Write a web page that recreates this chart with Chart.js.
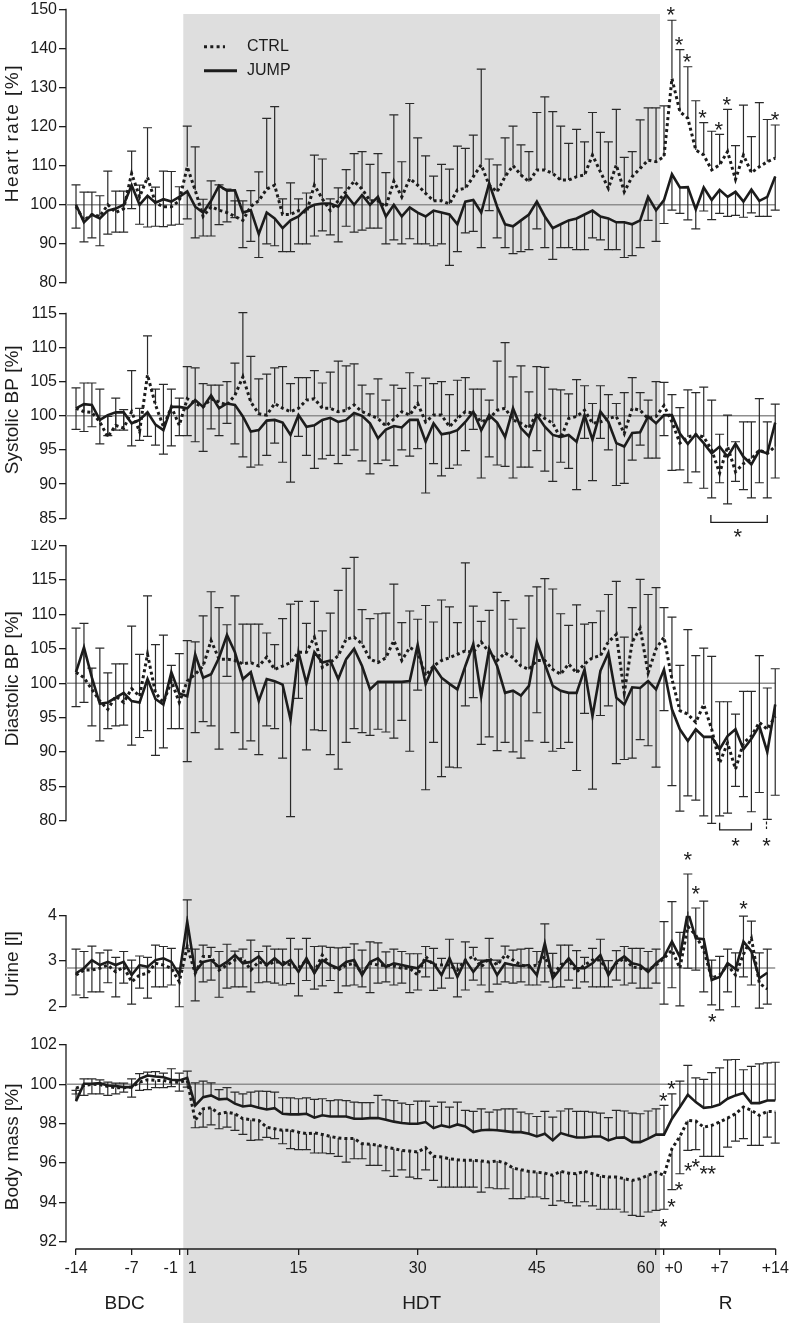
<!DOCTYPE html>
<html>
<head>
<meta charset="utf-8">
<title>Heart rate, blood pressure, urine and body mass - CTRL vs JUMP</title>
<script src="https://cdn.jsdelivr.net/npm/chart.js@4.4.1/dist/chart.umd.min.js"></script>
<style>
  html, body { margin: 0; padding: 0; background: #fff; }
  #page { position: relative; width: 791px; height: 1323px; overflow: hidden; }
  #page canvas { position: absolute; left: 0; }
</style>
</head>
<body>
<div id="page">
  <canvas id="hrChart" width="791" height="298" style="top:0px"></canvas>
  <canvas id="sysChart" width="791" height="242" style="top:298px"></canvas>
  <canvas id="diaChart" width="791" height="308" style="top:540px"></canvas>
  <canvas id="urineChart" width="791" height="187" style="top:848px"></canvas>
  <canvas id="massChart" width="791" height="288" style="top:1035px"></canvas>
</div>
<script>
// ============================================
// DATA
// ============================================

// days per phase: BDC -14..-1, HDT 1..60, R +0..+14 (one point per day)
const nBDC = 14, nHDT = 60, nR = 15;
const xTickPos  = [0, 7, 13, 14, 28, 43, 58, 73, 74, 81, 88];
const xTickText = ['-14', '-7', '-1', '1', '15', '30', '45', '60', '+0', '+7', '+14'];
const phaseNames = ['BDC', 'HDT', 'R'];
const seriesNames = ['CTRL', 'JUMP'];

// heart rate [%]
const hrCtrl = [
  99.5, 96, 97.5, 97, 100, 98, 99, 108, 102, 107, 100.5, 99.5, 99.5, 101,
  109.7, 103.7, 97, 99.5, 98.6, 98, 97, 96, 99.6, 101, 104, 105, 97.5, 97.5, 98.5, 98,
  105, 101.5, 98.5, 101, 103.4, 106, 104, 101, 101, 99.5, 106, 102, 106.7, 105, 102.9,
  101, 101, 100.2, 103.8, 104.2, 107.2, 110.2, 105, 103.3, 107.2, 110, 107.6, 105.9, 108.9, 108.9,
  108, 106.3, 106.3, 107.2, 107.6, 112.7, 108.4, 104.2, 110.2, 103.3, 107.2, 109.3, 111.4, 111,
  112.3, 132.3, 123.8, 122.1, 114, 112.7, 108.9, 110.2, 113.6, 106.5, 112.7, 108.2, 109.7, 111, 111.9
];
const hrCtrlErr = [
  5.6, 7.2, 5.7, 5.3, 8.6, 5.5, 4.5, 5.7, 3, 12.7, 4, 9.1, 9, 3.6,
  10.4, 11.1, 4.4, 6.6, 6.5, 6, 4, 5, 4, 7.4, 18.1, 20.1, 4, 8.1, 3, 5, 7.7, 10.2, 3, 3.3,
  5.6, 7.1, 9.6, 9.3, 12.1, 8.7, 17, 9, 19.2, 12.1, 9.6, 6.3, 9.3, 8.9, 11.2, 10.2, 10.6, 24.5,
  6.7, 6.9, 9.9, 10.1, 7.7, 7.7, 14.7, 18.7, 15.8, 13.8, 9.4, 12.1, 8.5, 10.9, 10.1, 11.9, 14.2,
  8.8, 6.4, 12.4, 13.4, 13.8,
  13, 14.9, 15.9, 13.2, 12.6, 8.3, 9.9, 7.8, 10.8, 8.6, 12.8, 9.2, 16.4, 10.8, 8.5
];
const hrJump = [
  100, 95.5, 97.5, 96.5, 98.5, 99, 100, 105, 100, 102.3, 100.5, 101.4, 100.8, 102,
  103.4, 99.5, 98, 101, 104.9, 103.6, 103.7, 98, 98.6, 92.5, 98, 96.5, 94, 96, 97, 99,
  100, 100.3, 100.3, 99.5, 102.5, 100, 102.5, 100, 102, 97, 100, 97, 99.3, 98, 97,
  98.5, 98, 97.5, 95, 100.8, 101.2, 98, 105.5, 99.5, 95, 94.5, 96, 97.5, 100.8, 97,
  94, 95, 96, 96.5, 97.5, 98.5, 97, 96.5, 95.5, 95.5, 95, 96, 102, 98.6,
  101.2, 107.8, 104.4, 104.5, 98.8, 104.4, 101.2, 103.8, 102, 103.3, 100.8, 103.9, 101, 102, 107.2
];
const hrJumpErr = [
  6, 5, 6, 7, 6, 6, 7, 6, 5, 8, 6, 7, 6, 7,
  7, 8, 6, 9, 10, 8, 7, 9, 8, 6, 8, 7, 6, 8, 7, 9, 8, 7, 8, 9, 8, 7, 9, 6, 8, 7, 9, 7, 8, 8,
  7, 9, 8, 13, 7, 8, 8, 9, 7, 8, 6, 7, 8, 9, 7, 8, 8, 6, 7, 8, 9, 7, 6, 8, 7, 9, 8, 7, 6, 8,
  6, 9.2, 6.6, 8.4, 5, 6, 5, 6, 5, 6, 4, 6, 4, 5, 8.6
];

// systolic BP [%]
const sysCtrl = [
  101.1, 100.6, 100.5, 99.1, 96.9, 98.6, 98.2, 100.6, 97.7, 106, 101.6, 98.4, 101.3, 98.6,
  102.5, 101.8, 101.3, 102.5, 102, 101.6, 103, 105.7, 102, 100.3, 100.1, 101.8, 101.1, 100.6, 101.1,
  102.3, 102.5, 101.1, 101.1, 100.6, 100.8, 101.6, 100.6, 100.1, 99.6, 98.5, 99.5, 100.6, 100.1,
  101.8, 99.1, 100.1, 100.1, 98.4, 99.6, 100.6, 100.4, 99.1, 99.6, 100.8, 101.1, 99.4, 98.9, 98.2,
  100.4, 99.6, 98.9, 96.7, 99.6, 99.9, 100.8, 98.9, 99.1, 99.6, 99.9, 97.4, 101.1, 100.8, 99.6, 99.9,
  101.5, 99.1, 96, 96.9, 97.2, 96.9, 95, 91.6, 95.5, 91.8, 93, 93.7, 95, 94.5, 95.5
];
const sysCtrlErr = [
  3, 4.2, 4.3, 4.8, 3, 4, 2.7, 6, 3.4, 5.7, 2.3, 6.2, 2.6, 4,
  4.7, 5.2, 3.4, 2, 2.5, 3.4, 4.7, 9.4, 6.7, 5.1, 6, 5.2, 6.1, 4.1, 4.5, 3.3, 4.1, 3.7, 5.3, 7.4,
  6.5, 6, 3.9, 3.1, 5.8, 3.8, 5, 3.4, 6.2, 2.6, 6.4, 4.6, 4.9, 4.7, 5.6, 5, 3.5, 4.8, 2.7, 7.2,
  9.6, 6.3, 8.4, 5.3, 6.8, 7.5, 5, 7.1, 3.6, 5.4, 3.6, 2.9, 5.3, 3.5, 1.9, 6, 4.5, 2.6, 2.7, 5.1,
  3.4, 4, 5.2, 6.9, 6.2, 7.3, 7.3, 5.7, 4.6, 4.4, 6.1, 5.4, 7.5, 4.6, 6.2
];
const sysJump = [
  101.1, 101.7, 101.6, 99.4, 100.1, 100.5, 100.5, 98.9, 99.4, 100.5, 98.7, 97.9, 101.3, 101.3,
  101.1, 102.3, 101.3, 103, 101.1, 101.8, 101.6, 99.9, 97.7, 97.9, 99.3, 99.4, 99, 97.2, 100.1,
  98.4, 98.6, 99.4, 99.7, 99.1, 99.4, 100.4, 100, 98.9, 96.7, 98, 98.5, 98.3, 99.4, 99.4,
  96.2, 98.9, 97.3, 97.5, 97.9, 99.1, 100.6, 97.9, 100.1, 99, 96.9, 101.1, 98.2, 97, 100.1,
  98.4, 97.2, 96.9, 97.2, 96.2, 100.1, 96.5, 100.6, 99.1, 96, 95.5, 97.5, 97.6, 99.9, 98.9,
  100.1, 100.1, 97.4, 95.9, 97.3, 96, 94.5, 95.5, 94, 95.9, 94, 92.9, 94.9, 94.5, 99
];
const sysJumpErr = [
  3.1, 4, 3.2, 3.5, 3, 2.6, 2.6, 3.3, 3, 3.5, 3, 3.5, 5.7, 4.2,
  4, 6.1, 6.5, 4.9, 4, 2.9, 5.7, 5.9, 5.2, 5.1, 5.1, 3.4, 5.8, 6.9, 3.1, 4.2, 6.3, 5.7, 5.5, 6.1,
  5.2, 5.4, 6.6, 7.4, 3.7, 4.5, 5.8, 3.3, 5.3, 4.2, 7.5, 5.9, 6.1, 5.2, 5.1, 4.2, 2.6, 7, 6.1, 6.2,
  4.3, 10.2, 5.7, 4.5, 5.2, 6.5, 6.8, 3.7, 4.9, 7, 3.4, 6, 3.9, 4.1, 6.2, 5.4, 4, 1.9, 6.1, 5.1,
  3, 8.1, 5.3, 5.7, 5.5, 6.6, 6.5, 5.3, 6.9, 5.5, 4.8, 4.9, 4.7, 6.5, 8.1
];

// diastolic BP [%]
const diaCtrl = [
  101.6, 100.8, 99.1, 97.4, 96.2, 98.1, 97.2, 99.2, 98.1, 104.2, 98.6, 97.2, 100.3, 97.2,
  100.3, 101.3, 102.5, 106.2, 103.5, 103.5, 103.3, 102.8, 103, 102.5, 103.8, 102, 102.5, 103, 104.5,
  104.5, 106.7, 102.3, 103, 104, 106.4, 106.7, 105.7, 103.5, 103, 103.7, 106.2, 103.3, 105.2, 104.5,
  101.1, 102.5, 103.3, 103.7, 104.2, 104.7, 104.5, 106, 104.5, 103.3, 104.4, 103.7, 102.5, 102, 103.3,
  103.3, 102, 101.3, 102.8, 101.5, 102.8, 103.7, 104, 106, 107.1, 98.6, 106, 108, 101.5, 105,
  106.7, 100.6, 96, 95.5, 94.3, 96.9, 93.3, 88.4, 91.3, 87.5, 91.3, 92.3, 94.3, 93.3, 95.2
];
const diaCtrlErr = [
  6.4, 7.9, 3.1, 7.7, 5.3, 4.7, 5.6, 9.1, 6.1, 8.5, 7, 9.8, 2.3, 7.1,
  5.9, 4.7, 7.3, 7.1, 7.5, 5, 9.4, 5.8, 5.6, 6.1, 3.5, 3.6, 6.9, 8.5, 7.4, 4.2, 5.2, 5.3, 7.2, 9.5,
  10.3, 11.6, 5, 5.9, 7.1, 6.5, 8.2, 5.5, 5.3, 4.8, 10.2, 6.4, 8.8, 7.4, 4.6, 12.8, 6.7, 3, 6.1, 9.9,
  7.6, 5.6, 5.5, 10.7, 10.7, 11.9, 11.7, 8.8, 5.6, 9.9, 5.8, 5.1, 6.5, 6.9, 7.7, 8.1, 5, 7.1, 11.4, 8.9,
  4.3, 9, 6.6, 12.3, 9.7, 8.2, 10.6, 8.9, 6, 8, 7.5, 6.5, 9.7, 6, 6.9
];
const diaJump = [
  101.6, 105.2, 100.8, 97, 97.2, 97.9, 98.6, 97.4, 97.2, 100.6, 97.7, 96.9, 101.6, 98.5,
  98.1, 104.2, 100.8, 101.3, 103.7, 107, 104.5, 100.6, 101.6, 97.4, 100.6, 100.3, 99.8, 94.7, 104.5,
  100, 104.5, 103, 103.3, 100.6, 103.5, 105, 102.5, 99.1, 100.2, 100.2, 100.2, 100.2, 100.3, 105.6,
  99.9, 102.5, 100.8, 99.9, 99.1, 102.5, 105.7, 98.1, 105, 102.5, 98.6, 98.9, 98.2, 99.6, 106,
  102.8, 99.6, 98.9, 98.6, 98.6, 102, 95.2, 101.8, 104.4, 97.9, 96.9, 99.4, 99.3, 100.3, 99.1,
  102, 96.2, 93.3, 91.6, 93.3, 92.2, 92.2, 90.4, 92.3, 93.3, 90.4, 91.9, 93.8, 90, 96.9
];
const diaJumpErr = [
  5, 8, 7, 5.4, 3.8, 4.1, 4.7, 6.4, 5.1, 7.5, 8.2, 6.3, 8.2, 5.1,
  9.5, 11.4, 6.4, 7.5, 13.3, 6, 11.7, 10.2, 10, 7.8, 6.8, 6.9, 10.7, 14.1, 6.7, 9.7, 11.3, 9.9,
  13.7, 13.1, 12.1, 11.6, 9.7, 6.7, 6.9, 7.3, 8.2, 5.6, 10.2, 6.6, 15.4, 11.1, 14.4, 12.1, 11.4,
  5.8, 7.8, 7, 12.8, 12.3, 7.2, 8.9, 9.1, 8, 10.3, 11.4, 9.5, 8.4, 7.2, 11.3, 6.4, 10.6, 6.5, 7.7,
  9.6, 8, 10.3, 7.5, 9.4, 11.3,
  6, 11.1, 11.9, 8, 10.3, 11.5, 12.6, 9.7, 11.2, 8.3, 6.9, 10.6, 9.7, 9.8, 13.2
];

// urine [l]  (no value on the last recovery day)
const urineCtrl = [
  2.69, 2.8, 2.8, 2.84, 2.91, 2.76, 2.87, 2.54, 2.69, 2.73, 2.95, 2.91, 2.84, 2.54,
  3.32, 2.73, 3.1, 3.1, 2.8, 2.91, 3.02, 3.06, 2.8, 2.98, 2.91, 2.98, 2.98, 2.91, 2.84, 3.02,
  2.76, 3.13, 2.91, 2.8, 2.91, 2.95, 2.73, 2.95, 2.91, 2.9, 2.89, 2.84, 2.84, 2.69, 3.1,
  2.91, 2.91, 2.91, 2.8, 3.02, 3.1, 2.87, 3.06, 2.91, 3.13, 3.02, 2.91, 2.87, 2.91, 3.1,
  2.69, 2.91, 3.02, 2.76, 2.91, 3.02, 3.02, 2.73, 2.95, 3.06, 2.87, 2.84, 2.8, 2.91,
  3.06, 3.24, 2.84, 3.76, 3.57, 3.24, 2.62, 2.69, 2.91, 2.69, 3.15, 3.5, 2.51, 2.38, null
];
const urineCtrlErr = [
  0.57, 0.41, 0.53, 0.34, 0.33, 0.32, 0.34, 0.48, 0.42, 0.35, 0.4, 0.41, 0.44, 0.3,
  1.03, 0.53, 0.25, 0.2, 0.41, 0.46, 0.2, 0.2, 0.66, 0.23, 0.42, 0.28, 0.28, 0.59, 0.42, 0.48,
  0.56, 0.2, 0.39, 0.49, 0.39, 0.43, 0.51, 0.47, 0.49, 0.3, 0.37, 0.37, 0.32, 0.47, 0.22,
  0.37, 0.15, 0.57, 0.15, 0.4, 0.2, 0.15, 0.44, 0.11, 0.2, 0.22, 0.35, 0.41, 0.3, 0.72,
  0.48, 0.44, 0.33, 0.47, 0.17, 0.26, 0.46, 0.28, 0.28, 0.26, 0.41, 0.44, 0.41, 0.35,
  0.81, 1.07, 0.79, 1.16, 0.6, 1.08, 0.4, 0.41, 0.35, 0.49, 0.84, 0.38, 0.67, 0.88, null
];
const urineJump = [
  2.73, 2.84, 3.02, 2.91, 2.98, 2.91, 2.98, 2.69, 2.91, 2.87, 3.02, 3.06, 2.98, 2.69,
  3.87, 2.76, 2.98, 3.02, 2.87, 2.98, 3.13, 2.95, 2.98, 3.1, 2.91, 3.06, 2.91, 3.02, 2.76, 3.06,
  2.73, 3.02, 2.91, 2.84, 2.98, 3.02, 2.69, 2.98, 3.06, 2.87, 2.95, 2.91, 2.87, 2.84, 3.02,
  2.95, 2.69, 3.06, 2.65, 3.02, 2.76, 2.98, 3.02, 2.69, 2.95, 2.91, 2.89, 2.91, 2.69, 3.39,
  2.62, 2.84, 3.06, 2.84, 2.84, 2.95, 3.13, 2.69, 2.98, 3.1, 2.95, 2.91, 2.76, 2.95,
  3.09, 3.43, 3.09, 4.09, 3.5, 3.48, 2.58, 2.65, 2.95, 2.82, 3.43, 3.21, 2.62, 2.74, null
];
const urineJumpErr = [
  0.48, 0.65, 0.7, 0.59, 0.46, 0.7, 0.47, 0.64, 0.51, 0.69, 0.59, 0.63, 0.51, 0.7,
  0.6, 0.64, 0.44, 0.44, 0.67, 0.58, 0.7, 0.52, 0.66, 0.58, 0.37, 0.55, 0.44, 0.52, 0.53, 0.49,
  0.35, 0.57, 0.34, 0.54, 0.53, 0.55, 0.26, 0.68, 0.55, 0.33, 0.48, 0.4, 0.57, 0.48, 0.37,
  0.6, 0.29, 0.44, 0.44, 0.66, 0.18, 0.51, 0.7, 0.2, 0.41, 0.4, 0.35, 0.44, 0.22, 0.85,
  0.2, 0.41, 0.48, 0.44, 0.3, 0.52, 0.7, 0.26, 0.4, 0.63, 0.44, 0.51, 0.36, 0.44,
  1.04, 1.02, 1.08, 1.25, 0.7, 1.16, 0.55, 0.73, 0.63, 0.83, 0.78, 0.74, 0.66, 0.69, null
];

// body mass [%]  (here JUMP bars point up, CTRL bars down)
const massCtrl = [
  99.8, 99.93, 100, 99.98, 99.88, 99.82, 99.82, 99.85, 100.1, 100.22, 100.19, 100.19, 100.1, 100.1,
  100.19, 98.16, 98.75, 98.8, 98.5, 98.58, 98.5, 98.25, 98.2, 98.16, 97.82, 97.74, 97.66, 97.66, 97.57,
  97.49, 97.53, 97.45, 97.35, 97.27, 97.24, 97.24, 96.98, 96.96, 96.9, 96.81, 96.73, 96.64, 96.61, 96.56,
  96.78, 96.34, 96.31, 96.22, 96.17, 96.14, 96.14, 96.11, 96.05, 96.11, 96, 95.75, 95.66, 95.58, 95.54,
  95.49, 95.38, 95.58, 95.49, 95.46, 95.58, 95.46, 95.34, 95.29, 95.29, 95.21, 95.12, 95.21, 95.38, 95.54,
  95.38, 96.73, 97.35, 98.16, 98.13, 97.82, 97.91, 98.08, 98.28, 98.5, 98.84, 98.67, 98.42, 98.62, 98.6
];
const massCtrlErr = [
  0.3, 0.5, 0.49, 0.47, 0.45, 0.31, 0.22, 0.51, 0.42, 0.5, 0.37, 0.37, 0.22, 0.45,
  0.34, 0.37, 0.93, 0.86, 0.76, 0.76, 0.84, 0.8, 1.05, 0.98, 0.52, 0.5, 0.68, 0.93, 0.89, 0.81,
  1.02, 0.94, 0.87, 0.93, 1.19, 1.02, 0.76, 1.08, 1.02, 1.2, 1.4, 0.98, 1.32, 1.35, 1.12,
  1.22, 1.53, 1.44, 1.39, 1.36, 1.36, 1.58, 1.3, 1.41, 1.3, 1.55, 1.46, 1.3, 1.26, 1.29,
  1.52, 1.5, 1.49, 1.63, 1.54, 1.63, 1.68, 1.63, 1.63, 1.69, 1.77, 1.91, 1.86, 1.94,
  1.72, 2.08, 1.89, 1.52, 1.45, 1.48, 1.57, 1.74, 1.47, 1.39, 1.6, 1.77, 1.52, 1.3, 1.59
];
const massJump = [
  99.14, 100.02, 100.02, 100.05, 99.93, 99.9, 99.85, 99.85, 100.27, 100.44, 100.39, 100.35, 100.22, 100.19,
  100.32, 98.92, 99.34, 99.43, 99.23, 99.26, 99.01, 98.87, 98.92, 98.8, 98.72, 98.78, 98.5, 98.47, 98.47,
  98.5, 98.3, 98.42, 98.36, 98.36, 98.36, 98.25, 98.25, 98.28, 98.28, 98.2, 98.1, 98.03, 97.99, 97.99,
  98.08, 97.77, 97.91, 97.82, 97.96, 97.86, 97.57, 97.66, 97.69, 97.66, 97.62, 97.57, 97.57, 97.49, 97.35,
  97.49, 97.15, 97.52, 97.4, 97.3, 97.3, 97.35, 97.35, 97.15, 97.28, 97.3, 97.06, 97.06, 97.24, 97.44,
  97.44, 98.25, 98.84, 99.46, 99.09, 98.8, 98.84, 98.97, 99.26, 99.43, 99.55, 99.04, 99.04, 99.17, 99.17
];
const massJumpErr = [
  0.54, 0.25, 0.25, 0.17, 0.17, 0.15, 0.2, 0.42, 0.26, 0.17, 0.25, 0.21, 0.56, 0.37,
  0.34, 1.15, 0.81, 0.64, 0.49, 0.56, 0.59, 0.64, 0.68, 0.85, 0.91, 0.82, 0.81, 0.83, 0.79, 0.8,
  0.93, 0.84, 0.81, 0.84, 0.81, 0.84, 0.81, 0.78, 1.15, 1, 1.07, 1.01, 0.98, 1.15, 1.06,
  1.1, 1.18, 1.02, 1.13, 0.81, 1.05, 1.09, 0.89, 1.04, 1.13, 1.18, 1.01, 1.01, 1.01, 1.13,
  1.18, 1.12, 1.35, 1.32, 1.32, 1.23, 1.18, 1.15, 1.39, 1.34, 1.47, 1.44, 1.4, 1.31,
  1.48, 1.26, 1.31, 1.49, 1.23, 1.44, 1.74, 1.86, 1.97, 1.82, 1.18, 1.86, 1.99, 1.91, 1.94
];

// significance marks: [day index, value]
const hrStars    = [[74.87, 150], [75.9, 142.3], [76.9, 137.9], [78.86, 123.5], [80.9, 120.6], [81.9, 127], [87.96, 123.2]];
const sysStars   = [[83.3, 83]];
const sysBracket = [79.9, 87, 84.4, 85.5];       // from, to, level, tip
const diaStars   = [[83, 77.06], [86.9, 77.06]];
const diaBracket = [81, 85, 78.66, 79.7];
const diaTick    = [86.9, 79.9, 78.8];            // dashed stub: day, from, to
const urineStars = [[77, 5.34], [78, 4.6], [84, 4.27], [80.07, 1.77]];
const massStars  = [[73.9, 99.45], [74.96, 100.05], [73.9, 93.03], [74.96, 94.04], [75.9, 94.89],
                    [77.05, 95.9], [78, 96.07], [79, 95.74], [80, 95.74]];

// ============================================
// SHARED SETTINGS
// ============================================

const INK = '#1c1c1c';
const FONT = "'Liberation Sans', Arial, Helvetica, sans-serif";
Chart.defaults.font.family = FONT;
Chart.defaults.color = INK;

const lastDay = nBDC + nHDT + nR - 1;
const xMin = -1.26, xMax = lastDay + 0.6;

function toPoints(arr) {
    return arr.map((v, i) => ({ x: i, y: v }));
}

function drawStar(ctx, px, py) {
    ctx.font = '22px ' + FONT;
    ctx.textAlign = 'center';
    ctx.textBaseline = 'alphabetic';
    ctx.fillText('*', px, py + 12.5);
}

// gray HDT band, error bars, axis lines, titles, stars...
function decor(o) {
    return {
        id: 'decor',
        beforeDraw(chart) {
            const { ctx, scales: { x } } = chart;
            const x0 = x.getPixelForValue(nBDC - 0.5);
            const x1 = x.getPixelForValue(nBDC + nHDT - 0.5);
            ctx.save();
            ctx.fillStyle = '#dedede';
            ctx.fillRect(x0, o.bandTop || 0, x1 - x0, chart.height);
            ctx.restore();
        },
        beforeDatasetsDraw(chart) {
            const { ctx, chartArea, scales: { x, y } } = chart;
            ctx.save();
            // y axis line (only between first and last tick)
            ctx.strokeStyle = INK;
            ctx.lineWidth = 1.3;
            ctx.beginPath();
            ctx.moveTo(chartArea.left, y.getPixelForValue(o.ticks[0]) + 0.6);
            ctx.lineTo(chartArea.left, y.getPixelForValue(o.ticks[o.ticks.length - 1]) - 0.6);
            ctx.stroke();
            // reference line
            const yr = y.getPixelForValue(o.ref);
            ctx.strokeStyle = '#8e8e8e';
            ctx.lineWidth = 1.5;
            ctx.beginPath();
            ctx.moveTo(chartArea.left, yr);
            ctx.lineTo(x.getPixelForValue(lastDay), yr);
            ctx.stroke();
            // error bars
            ctx.strokeStyle = '#2a2a2a';
            ctx.lineWidth = 1.2;
            chart.data.datasets.forEach(ds => {
                ds.data.forEach((p, i) => {
                    const e = ds.err[i];
                    if (p.y == null || e == null) return;
                    const px = x.getPixelForValue(p.x);
                    const y0 = y.getPixelForValue(p.y);
                    const y1 = y.getPixelForValue(p.y + ds.dir * e);
                    ctx.beginPath();
                    ctx.moveTo(px, y0);
                    ctx.lineTo(px, y1);
                    ctx.moveTo(px - 4.5, y1);
                    ctx.lineTo(px + 4.5, y1);
                    ctx.stroke();
                });
            });
            ctx.restore();
        },
        afterDraw(chart) {
            const { ctx, chartArea, scales: { x, y } } = chart;
            ctx.save();
            ctx.fillStyle = INK;
            ctx.strokeStyle = INK;

            // rotated axis title
            ctx.save();
            ctx.translate(12.4, (chartArea.top + chartArea.bottom) / 2 + (o.titleShift || 0));
            ctx.rotate(-Math.PI / 2);
            ctx.font = '19px ' + FONT;
            ctx.textAlign = 'center';
            ctx.textBaseline = 'middle';
            if (o.titleSpacing) ctx.letterSpacing = o.titleSpacing + 'px';
            ctx.fillText(o.title, 0, 0);
            ctx.restore();

            (o.stars || []).forEach(s => drawStar(ctx, x.getPixelForValue(s[0]), y.getPixelForValue(s[1])));

            if (o.bracket) {
                const [a, b, lv, tip] = o.bracket;
                const xa = x.getPixelForValue(a), xb = x.getPixelForValue(b);
                const yl = y.getPixelForValue(lv), yt = y.getPixelForValue(tip);
                ctx.lineWidth = 1.3;
                ctx.beginPath();
                ctx.moveTo(xa, yt); ctx.lineTo(xa, yl); ctx.lineTo(xb, yl); ctx.lineTo(xb, yt);
                ctx.stroke();
            }
            if (o.stub) {
                const [d, v0, v1] = o.stub;
                const xs = x.getPixelForValue(d);
                ctx.lineWidth = 1.2;
                ctx.setLineDash([3, 2]);
                ctx.beginPath();
                ctx.moveTo(xs, y.getPixelForValue(v0));
                ctx.lineTo(xs, y.getPixelForValue(v1));
                ctx.stroke();
                ctx.setLineDash([]);
            }
            if (o.legend) {
                ctx.lineWidth = 3;
                ctx.setLineDash([3, 3.3]);
                ctx.beginPath(); ctx.moveTo(204, 46.7); ctx.lineTo(225, 46.7); ctx.stroke();
                ctx.setLineDash([]);
                ctx.beginPath(); ctx.moveTo(204, 70.7); ctx.lineTo(237, 70.7); ctx.stroke();
                ctx.font = '16px ' + FONT;
                ctx.textAlign = 'left';
                ctx.textBaseline = 'middle';
                ctx.fillText(seriesNames[0], 247, 46.7);
                ctx.fillText(seriesNames[1], 247, 70.7);
            }
            if (o.xAxis) {
                const yb = chartArea.bottom;
                ctx.lineWidth = 1.3;
                ctx.beginPath();
                ctx.moveTo(x.getPixelForValue(0) - 0.6, yb);
                ctx.lineTo(x.getPixelForValue(lastDay) + 0.6, yb);
                ctx.stroke();
                ctx.font = '16px ' + FONT;
                ctx.textBaseline = 'middle';
                xTickPos.forEach((d, k) => {
                    const px = x.getPixelForValue(d);
                    const prev = k > 0 ? xTickPos[k - 1] : -99;
                    const next = k < xTickPos.length - 1 ? xTickPos[k + 1] : 999;
                    if (next - d <= 1) { ctx.textAlign = 'right'; ctx.fillText(xTickText[k], px - 1.5, yb + 20); }
                    else if (d - prev <= 1) { ctx.textAlign = 'left'; ctx.fillText(xTickText[k], px + 0.5, yb + 20); }
                    else { ctx.textAlign = 'center'; ctx.fillText(xTickText[k], px, yb + 20); }
                });
                // phase names, centred in each phase's stretch of the page
                const b0 = x.getPixelForValue(nBDC - 0.5), b1 = x.getPixelForValue(nBDC + nHDT - 0.5);
                const mids = [(chartArea.left + b0) / 2, (b0 + b1) / 2, (b1 + chart.width) / 2];
                ctx.font = '19px ' + FONT;
                ctx.textAlign = 'center';
                phaseNames.forEach((n, k) => ctx.fillText(n, mids[k], yb + 55));
            }
            ctx.restore();
        }
    };
}

function makePanel(id, o) {
    const ctx = document.getElementById(id).getContext('2d');
    return new Chart(ctx, {
        type: 'line',
        data: {
            datasets: [{
                label: seriesNames[0],
                data: toPoints(o.ctrl),
                err: o.ctrlErr,
                dir: o.ctrlDir,
                borderColor: INK,
                borderWidth: 3,
                borderDash: [3, 3],
                pointRadius: 0,
                tension: 0,
                fill: false
            }, {
                label: seriesNames[1],
                data: toPoints(o.jump),
                err: o.jumpErr,
                dir: -o.ctrlDir,
                borderColor: INK,
                borderWidth: 2.6,
                pointRadius: 0,
                tension: 0,
                fill: false
            }]
        },
        options: {
            responsive: false,
            animation: false,
            events: [],
            layout: { padding: { top: o.padTop, bottom: o.padBottom, left: 0, right: 11 } },
            plugins: { legend: { display: false }, tooltip: { enabled: false } },
            scales: {
                x: {
                    type: 'linear',
                    min: xMin,
                    max: xMax,
                    display: !!o.xAxis,
                    afterBuildTicks: s => { s.ticks = xTickPos.map(v => ({ value: v })); },
                    afterFit: s => { s.height = o.xAxis ? 74 : 0; s.paddingLeft = 0; s.paddingRight = 0; },
                    border: { display: false },
                    grid: { drawOnChartArea: false, drawTicks: true, tickLength: 6, color: INK, lineWidth: 1.3 },
                    ticks: { display: false }
                },
                y: {
                    min: o.min,
                    max: o.max,
                    afterBuildTicks: s => { s.ticks = o.ticks.map(v => ({ value: v })); },
                    afterFit: s => { s.width = 66; s.paddingTop = 0; s.paddingBottom = 0; },
                    border: { display: false },
                    grid: { drawOnChartArea: false, drawTicks: true, tickLength: 7, color: INK, lineWidth: 1.3 },
                    ticks: { font: { size: 16 }, color: INK, padding: 2 }
                }
            }
        },
        plugins: [decor(o)]
    });
}

// ============================================
// PANELS
// ============================================

makePanel('hrChart', {
    title: 'Heart rate [%]', titleShift: -13, titleSpacing: 1.5,
    min: 80, max: 150, ticks: [80, 90, 100, 110, 120, 130, 140, 150], ref: 100,
    ctrl: hrCtrl, ctrlErr: hrCtrlErr, jump: hrJump, jumpErr: hrJumpErr, ctrlDir: 1,
    padTop: 9.3, padBottom: 15.1, bandTop: 14, legend: true, stars: hrStars
});

makePanel('sysChart', {
    title: 'Systolic BP [%]', titleShift: -6,
    min: 85, max: 115, ticks: [85, 90, 95, 100, 105, 110, 115], ref: 100,
    ctrl: sysCtrl, ctrlErr: sysCtrlErr, jump: sysJump, jumpErr: sysJumpErr, ctrlDir: 1,
    padTop: 15.3, padBottom: 21.7, stars: sysStars, bracket: sysBracket
});

makePanel('diaChart', {
    title: 'Diastolic BP [%]', titleShift: -4.5,
    min: 80, max: 120, ticks: [80, 85, 90, 95, 100, 105, 110, 115, 120], ref: 100,
    ctrl: diaCtrl, ctrlErr: diaCtrlErr, jump: diaJump, jumpErr: diaJumpErr, ctrlDir: 1,
    padTop: 5.7, padBottom: 27.3, stars: diaStars, bracket: diaBracket, stub: diaTick
});

makePanel('urineChart', {
    title: 'Urine [l]', titleShift: 3,
    min: 2, max: 4, ticks: [2, 3, 4], ref: 2.845,
    ctrl: urineCtrl, ctrlErr: urineCtrlErr, jump: urineJump, jumpErr: urineJumpErr, ctrlDir: 1,
    padTop: 67.7, padBottom: 28.7, stars: urineStars
});

makePanel('massChart', {
    title: 'Body mass [%]', titleShift: 0,
    min: 91.645, max: 102, ticks: [92, 94, 96, 98, 100, 102], ref: 100,
    ctrl: massCtrl, ctrlErr: massCtrlErr, jump: massJump, jumpErr: massJumpErr, ctrlDir: -1,
    padTop: 9.7, padBottom: 0, xAxis: true, stars: massStars
});
</script>
</body>
</html>
